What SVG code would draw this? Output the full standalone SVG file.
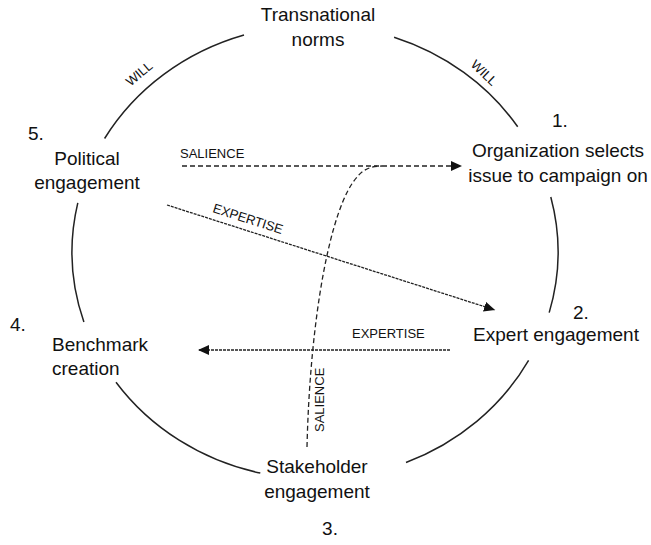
<svg xmlns="http://www.w3.org/2000/svg" width="651" height="545" viewBox="0 0 651 545">
<defs>
<style>
text{font-family:"Liberation Sans",Arial,sans-serif;fill:#111}
.t{font-size:19px;text-anchor:middle}
.n{font-size:19px}
.s{font-size:13px}
.arc{fill:none;stroke:#222;stroke-width:1.5}
.sal{fill:none;stroke:#222;stroke-width:1.3;stroke-dasharray:5 3}
.exp{fill:none;stroke:#222;stroke-width:1.3;stroke-dasharray:3 1}
</style>
<marker id="ah" markerUnits="userSpaceOnUse" markerWidth="12" markerHeight="10" refX="11" refY="5" orient="auto">
<path d="M0,0 L11,5 L0,10 Z" fill="#111"/>
</marker>
</defs>
<rect width="651" height="545" fill="#fff"/>
<g id="cycle">
<path class="arc" d="M104.6,138.5 A243,227 0 0 1 244,35"/>
<path class="arc" d="M394.1,37.3 A243,227 0 0 1 517.7,126.7"/>
<path class="arc" d="M550.8,197 A243,227 0 0 1 549.2,312.6"/>
<path class="arc" d="M528.6,360.3 A243,227 0 0 1 406,462.5"/>
<path class="arc" d="M260.3,473.1 A243,227 0 0 1 116,382.2"/>
<path class="arc" d="M83.9,322.1 A243,227 0 0 1 77.8,202.9"/>
<text class="s" transform="translate(142,77) rotate(-40)" text-anchor="middle">WILL</text>
<text class="s" transform="translate(481,76) rotate(44)" text-anchor="middle">WILL</text>
</g>
<g id="connectors">
<path class="sal" d="M182,166 L462,166" marker-end="url(#ah)"/>
<path class="sal" d="M307,447 C310,320 330,205 358,176 Q366,166 382,166"/>
<path class="exp" d="M167,205 L495,310" marker-end="url(#ah)"/>
<path class="exp" d="M450,350 L198,350" marker-end="url(#ah)"/>
<text class="s" x="180" y="158">SALIENCE</text>
<text class="s" transform="translate(212,212) rotate(17.7)">EXPERTISE</text>
<text class="s" x="352" y="338">EXPERTISE</text>
<text class="s" transform="translate(324,432) rotate(-90)">SALIENCE</text>
</g>
<g id="node-transnational">
<text class="t" x="318" y="21">Transnational</text>
<text class="t" x="318" y="46">norms</text>
</g>
<g id="node-1">
<text class="n" x="552" y="127">1.</text>
<text class="t" x="558" y="157">Organization selects</text>
<text class="t" x="558" y="182">issue to campaign on</text>
</g>
<g id="node-2">
<text class="n" x="573" y="319">2.</text>
<text class="t" x="556" y="341">Expert engagement</text>
</g>
<g id="node-3">
<text class="t" x="317" y="473">Stakeholder</text>
<text class="t" x="317" y="498">engagement</text>
<text class="t" x="330" y="535">3.</text>
</g>
<g id="node-4">
<text class="n" x="10" y="331">4.</text>
<text class="n" x="52" y="351">Benchmark</text>
<text class="n" x="52" y="375">creation</text>
</g>
<g id="node-5">
<text class="n" x="28" y="140">5.</text>
<text class="t" x="87" y="165">Political</text>
<text class="t" x="87" y="189">engagement</text>
</g>
</svg>
